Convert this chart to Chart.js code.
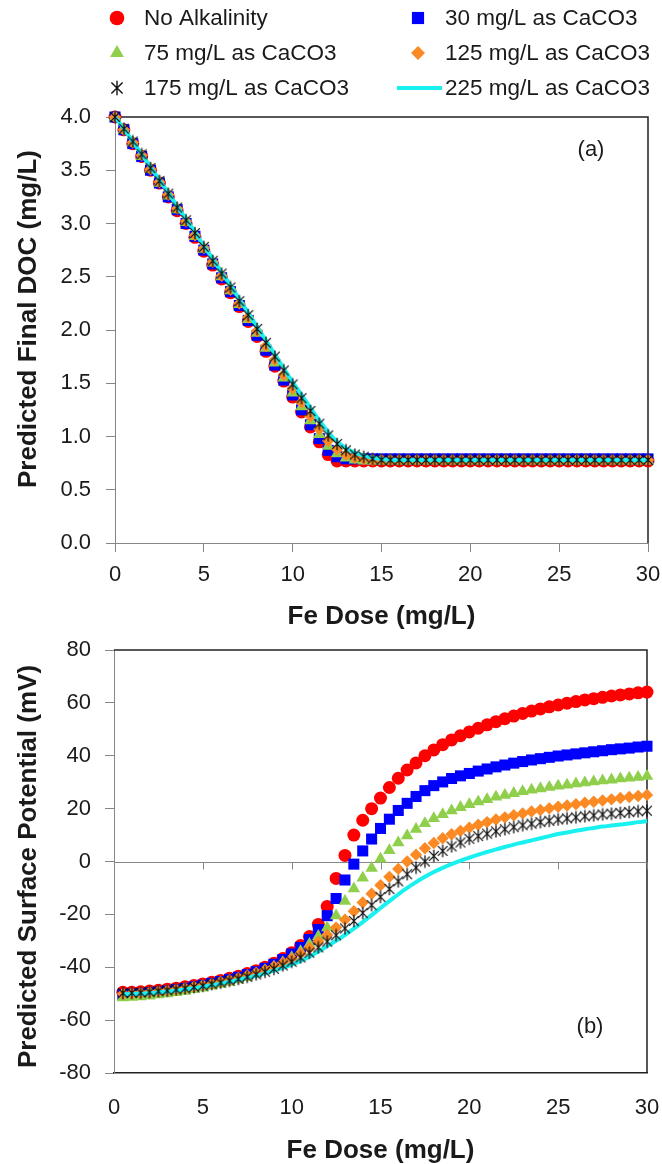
<!DOCTYPE html>
<html>
<head>
<meta charset="utf-8">
<script src="https://cdn.jsdelivr.net/npm/chart.js@4.4.1/dist/chart.umd.min.js"></script>
<style>
  html, body { margin: 0; padding: 0; background: #ffffff; }
  #wrap { position: relative; width: 662px; height: 1164px; overflow: hidden; }
  canvas { position: absolute; left: 0; }
  #docChart { top: 0; }
  #zetaChart { top: 640px; }
</style>
</head>
<body>
<div id="wrap">
  <canvas id="docChart" width="662" height="640"></canvas>
  <canvas id="zetaChart" width="662" height="524"></canvas>
</div>
<script>
// ---- series labels ----
const seriesNames = [
  'No Alkalinity',
  '30 mg/L as CaCO3',
  '75 mg/L as CaCO3',
  '125 mg/L as CaCO3',
  '175 mg/L as CaCO3',
  '225 mg/L as CaCO3'
];

// ---- axis ticks ----
const doseTicks = [0, 5, 10, 15, 20, 25, 30];
const docTicks = [0, 0.5, 1, 1.5, 2, 2.5, 3, 3.5, 4];
const potentialTicks = [-80, -60, -40, -20, 0, 20, 40, 60, 80];

// ---- (a) Fe dose (mg/L) for the DOC panel ----
const doseDoc = [
  0, 0.5, 1, 1.5, 2, 2.5, 3, 3.5, 4, 4.5, 5, 5.5, 6, 6.5, 7, 7.5, 8, 8.5, 9, 9.5,
  10, 10.5, 11, 11.5, 12, 12.5, 13, 13.5, 14, 14.5, 15, 15.5, 16, 16.5, 17, 17.5, 18, 18.5, 19, 19.5,
  20, 20.5, 21, 21.5, 22, 22.5, 23, 23.5, 24, 24.5, 25, 25.5, 26, 26.5, 27, 27.5, 28, 28.5, 29, 29.5, 30
];

// predicted final DOC (mg/L)
const docNoAlk = [
  4.00, 3.88, 3.75, 3.63, 3.50, 3.38, 3.25, 3.12, 3.00, 2.87, 2.74, 2.61, 2.48, 2.35, 2.22, 2.08, 1.94, 1.80, 1.66, 1.52,
  1.37, 1.23, 1.09, 0.95, 0.83, 0.77, 0.77, 0.77, 0.77, 0.77, 0.77, 0.77, 0.77, 0.77, 0.77, 0.77, 0.77, 0.77, 0.77, 0.77,
  0.77, 0.77, 0.77, 0.77, 0.77, 0.77, 0.77, 0.77, 0.77, 0.77, 0.77, 0.77, 0.77, 0.77, 0.77, 0.77, 0.77, 0.77, 0.77, 0.77, 0.77
];
const docAlk30 = [
  4.00, 3.88, 3.75, 3.63, 3.50, 3.38, 3.25, 3.13, 3.00, 2.88, 2.75, 2.62, 2.49, 2.36, 2.23, 2.09, 1.95, 1.81, 1.67, 1.53,
  1.39, 1.25, 1.11, 0.98, 0.87, 0.81, 0.79, 0.79, 0.79, 0.79, 0.79, 0.79, 0.79, 0.79, 0.79, 0.79, 0.79, 0.79, 0.79, 0.79,
  0.79, 0.79, 0.79, 0.79, 0.79, 0.79, 0.79, 0.79, 0.79, 0.79, 0.79, 0.79, 0.79, 0.79, 0.79, 0.79, 0.79, 0.79, 0.79, 0.79, 0.79
];
const docAlk75 = [
  4.00, 3.88, 3.76, 3.63, 3.51, 3.38, 3.26, 3.13, 3.01, 2.88, 2.76, 2.63, 2.50, 2.37, 2.24, 2.10, 1.97, 1.83, 1.69, 1.55,
  1.41, 1.28, 1.15, 1.02, 0.91, 0.84, 0.80, 0.78, 0.77, 0.77, 0.77, 0.77, 0.77, 0.77, 0.77, 0.77, 0.77, 0.77, 0.77, 0.77,
  0.77, 0.77, 0.77, 0.77, 0.77, 0.77, 0.77, 0.77, 0.77, 0.77, 0.77, 0.77, 0.77, 0.77, 0.77, 0.77, 0.77, 0.77, 0.77, 0.77, 0.77
];
const docAlk125 = [
  4.00, 3.88, 3.76, 3.64, 3.51, 3.39, 3.27, 3.14, 3.02, 2.89, 2.77, 2.64, 2.51, 2.38, 2.25, 2.12, 1.99, 1.85, 1.72, 1.58,
  1.45, 1.32, 1.19, 1.07, 0.96, 0.88, 0.83, 0.80, 0.79, 0.78, 0.78, 0.78, 0.78, 0.78, 0.78, 0.78, 0.78, 0.78, 0.78, 0.78,
  0.78, 0.78, 0.78, 0.78, 0.78, 0.78, 0.78, 0.78, 0.78, 0.78, 0.78, 0.78, 0.78, 0.78, 0.78, 0.78, 0.78, 0.78, 0.78, 0.78, 0.78
];
const docAlk175 = [
  4.00, 3.89, 3.77, 3.65, 3.52, 3.40, 3.28, 3.15, 3.03, 2.91, 2.78, 2.65, 2.53, 2.40, 2.27, 2.14, 2.01, 1.88, 1.75, 1.62,
  1.49, 1.36, 1.24, 1.12, 1.01, 0.93, 0.87, 0.83, 0.81, 0.79, 0.78, 0.78, 0.78, 0.78, 0.78, 0.78, 0.78, 0.78, 0.78, 0.78,
  0.78, 0.78, 0.78, 0.78, 0.78, 0.78, 0.78, 0.78, 0.78, 0.78, 0.78, 0.78, 0.78, 0.78, 0.78, 0.78, 0.78, 0.78, 0.78, 0.78, 0.78
];
const docAlk225 = [
  4.00, 3.89, 3.77, 3.65, 3.53, 3.41, 3.29, 3.16, 3.04, 2.92, 2.79, 2.67, 2.54, 2.42, 2.29, 2.16, 2.03, 1.90, 1.77, 1.64,
  1.51, 1.39, 1.27, 1.15, 1.04, 0.95, 0.89, 0.85, 0.82, 0.80, 0.79, 0.78, 0.78, 0.78, 0.78, 0.78, 0.78, 0.78, 0.78, 0.78,
  0.78, 0.78, 0.78, 0.78, 0.78, 0.78, 0.78, 0.78, 0.78, 0.78, 0.78, 0.78, 0.78, 0.78, 0.78, 0.78, 0.78, 0.78, 0.78, 0.78, 0.78
];

// ---- (b) Fe dose (mg/L) for the surface potential panel ----
const dosePotential = [
  0.5, 1, 1.5, 2, 2.5, 3, 3.5, 4, 4.5, 5, 5.5, 6, 6.5, 7, 7.5, 8, 8.5, 9, 9.5, 10,
  10.5, 11, 11.5, 12, 12.5, 13, 13.5, 14, 14.5, 15, 15.5, 16, 16.5, 17, 17.5, 18, 18.5, 19, 19.5, 20,
  20.5, 21, 21.5, 22, 22.5, 23, 23.5, 24, 24.5, 25, 25.5, 26, 26.5, 27, 27.5, 28, 28.5, 29, 29.5, 30
];

// predicted surface potential (mV)
const psiNoAlk = [
  -49.5, -49.5, -49.3, -49.0, -48.7, -48.3, -47.9, -47.4, -46.9, -46.3,
  -45.7, -45.0, -44.2, -43.4, -42.4, -41.3, -40.0, -38.5, -36.7, -34.5,
  -31.8, -28.4, -23.8, -17.0, -6.4, 2.3, 10.0, 15.6, 20.0, 24.0,
  28.0, 31.5, 34.6, 37.3, 40.0, 42.2, 44.2, 46.0, 47.6, 49.0,
  50.4, 51.7, 52.9, 54.0, 55.0, 56.0, 56.9, 57.7, 58.5, 59.2,
  59.9, 60.5, 61.1, 61.6, 62.1, 62.6, 63.0, 63.4, 63.8, 64.1
];
const psiAlk30 = [
  -50.3, -50.2, -50.0, -49.7, -49.4, -49.0, -48.5, -48.0, -47.4, -46.8,
  -46.1, -45.4, -44.6, -43.8, -42.8, -41.7, -40.4, -38.9, -37.1, -35.0,
  -32.5, -29.5, -25.7, -20.5, -14.0, -7.0, -1.0, 4.0, 8.5, 12.5,
  16.0, 19.3, 22.0, 24.6, 26.8, 28.7, 30.1, 31.4, 32.4, 33.3,
  34.2, 35.0, 35.8, 36.5, 37.2, 37.8, 38.4, 38.9, 39.4, 39.9,
  40.3, 40.7, 41.1, 41.5, 41.9, 42.3, 42.6, 42.9, 43.3, 43.6
];
const psiAlk75 = [
  -51.5, -51.3, -51.1, -50.8, -50.4, -50.0, -49.5, -49.0, -48.4, -47.8,
  -47.1, -46.4, -45.6, -44.7, -43.7, -42.6, -41.3, -39.9, -38.2, -36.3,
  -34.0, -31.3, -28.3, -25.0, -20.5, -15.0, -10.3, -6.2, -2.5, 1.0,
  4.2, 7.1, 9.8, 12.2, 14.4, 16.3, 17.8, 19.2, 20.5, 21.6,
  22.6, 23.5, 24.4, 25.1, 25.8, 26.5, 27.1, 27.6, 28.1, 28.6,
  29.0, 29.4, 29.8, 30.2, 30.6, 30.9, 31.3, 31.6, 31.9, 32.3
];
const psiAlk125 = [
  -50.0, -49.9, -49.7, -49.5, -49.2, -48.8, -48.4, -47.9, -47.4, -46.8,
  -46.2, -45.5, -44.8, -44.0, -43.1, -42.1, -41.0, -39.7, -38.3, -36.7,
  -34.8, -32.7, -30.3, -27.8, -25.0, -22.0, -18.8, -15.5, -12.2, -9.0,
  -5.8, -2.8, 0.0, 2.6, 5.0, 7.0, 8.8, 10.3, 11.6, 12.8,
  13.9, 14.9, 15.9, 16.7, 17.5, 18.2, 18.9, 19.5, 20.1, 20.7,
  21.2, 21.7, 22.2, 22.6, 23.1, 23.5, 24.0, 24.4, 24.8, 25.2
];
const psiAlk175 = [
  -49.8, -49.7, -49.6, -49.4, -49.1, -48.8, -48.4, -48.0, -47.5, -47.0,
  -46.4, -45.8, -45.1, -44.4, -43.6, -42.7, -41.7, -40.6, -39.3, -37.9,
  -36.3, -34.5, -32.5, -30.3, -27.9, -25.3, -22.5, -19.5, -16.5, -13.4,
  -10.4, -7.5, -4.8, -2.3, 0.0, 2.1, 4.0, 5.7, 7.2, 8.6,
  9.6, 10.5, 11.4, 12.2, 13.0, 13.7, 14.3, 14.9, 15.4, 15.9,
  16.3, 16.7, 17.1, 17.4, 17.8, 18.1, 18.4, 18.7, 19.0, 19.2
];
const psiAlk225 = [
  -50.2, -50.1, -50.0, -49.8, -49.5, -49.2, -48.8, -48.4, -47.9, -47.4,
  -46.8, -46.2, -45.5, -44.8, -44.0, -43.2, -42.3, -41.3, -40.2, -39.0,
  -37.6, -36.0, -34.1, -32.0, -30.0, -27.8, -25.4, -22.9, -20.3, -17.6,
  -15.0, -12.4, -10.0, -7.8, -5.8, -4.0, -2.4, -1.0, 0.3, 1.5,
  2.6, 3.6, 4.6, 5.5, 6.4, 7.2, 8.0, 8.8, 9.6, 10.4,
  11.0, 11.6, 12.2, 12.7, 13.2, 13.6, 14.0, 14.4, 14.9, 15.3
];

// ---- styling ----
const FONT = '"Liberation Sans", Arial, Helvetica, sans-serif';
const AXIS_GREY = '#868686';
const TEXT = '#1a1a1a';

// six-armed asterisk marker (vertical bar plus a cross)
function asteriskMarker(size, color, width) {
  const c = document.createElement('canvas');
  c.width = size; c.height = size;
  const g = c.getContext('2d');
  const m = size / 2, r = size / 2 - 0.8, d = r * 0.78;
  g.strokeStyle = color;
  g.lineWidth = width;
  g.beginPath();
  g.moveTo(m, m - r); g.lineTo(m, m + r);
  g.moveTo(m - d, m - d); g.lineTo(m + d, m + d);
  g.moveTo(m + d, m - d); g.lineTo(m - d, m + d);
  g.stroke();
  return c;
}
const asterisk = asteriskMarker(14, '#111111', 1.3);
const asteriskKey = asteriskMarker(16, '#111111', 1.4);

const seriesStyle = [
  { color: '#ff0000', pointStyle: 'circle',   radius: 6.5, order: 6 },
  { color: '#0000ff', pointStyle: 'rect',     radius: 7.8, order: 5 },
  { color: '#8fcf4c', pointStyle: 'triangle', radius: 7.2, order: 4 },
  { color: '#fb8a24', pointStyle: 'rectRot',  radius: 6.2, order: 3 },
  { color: '#111111', pointStyle: asterisk,   radius: 7,   order: 1, key: asteriskKey },
  { color: '#19f0f0', line: true,             order: 2 }
];

function buildDatasets(xs, ysList) {
  return ysList.map((ys, i) => {
    const st = seriesStyle[i];
    const data = xs.map((x, k) => ({ x: x, y: ys[k] }));
    if (st.line) {
      return {
        label: seriesNames[i], data, order: st.order, showLine: true,
        borderColor: st.color, backgroundColor: st.color, borderWidth: 4,
        pointRadius: 0, cubicInterpolationMode: 'monotone', clip: false
      };
    }
    return {
      label: seriesNames[i], data, order: st.order, showLine: false,
      pointStyle: st.pointStyle, pointRadius: st.radius,
      backgroundColor: st.color, borderColor: st.color, borderWidth: 0,
      clip: false
    };
  });
}

// plot frame, zero line, rotated value-axis title and panel tag
const framePlugin = {
  id: 'frame',
  beforeDatasetsDraw(chart, args, opts) {
    const { ctx, chartArea: a } = chart;
    const xs = chart.scales.x, ys = chart.scales.y;
    ctx.save();
    ctx.strokeStyle = '#222222';
    ctx.lineWidth = 1.5;
    ctx.beginPath();
    ctx.moveTo(a.left, a.top);
    ctx.lineTo(a.right, a.top);
    ctx.lineTo(a.right, a.bottom);
    ctx.stroke();
    if (opts.zeroLine) {
      const y0 = Math.round(ys.getPixelForValue(0)) + 0.5;
      ctx.strokeStyle = AXIS_GREY;
      ctx.lineWidth = 1;
      ctx.beginPath();
      ctx.moveTo(a.left, y0);
      ctx.lineTo(a.right, y0);
      xs.ticks.forEach(t => {
        const px = Math.round(xs.getPixelForValue(t.value)) + 0.5;
        ctx.moveTo(px, y0);
        ctx.lineTo(px, y0 + 7);
      });
      ctx.stroke();
    }
    if (opts.yTitle) {
      ctx.save();
      ctx.translate(ys.left + 29, (a.top + a.bottom) / 2 + opts.yTitleShift);
      ctx.rotate(-Math.PI / 2);
      ctx.fillStyle = TEXT;
      ctx.font = 'bold 26px ' + FONT;
      ctx.textAlign = 'center';
      ctx.textBaseline = 'middle';
      ctx.fillText(opts.yTitle, 0, 0);
      ctx.restore();
    }
    if (opts.tag) {
      ctx.fillStyle = TEXT;
      ctx.font = '22px ' + FONT;
      ctx.textAlign = 'center';
      ctx.textBaseline = 'middle';
      const ty = opts.tagFromTop ? a.top + opts.tagOffset : a.bottom - opts.tagOffset;
      ctx.fillText(opts.tag, a.right - 57, ty);
    }
    ctx.restore();
  }
};

// two-column legend above panel (a)
const legendPlugin = {
  id: 'gridLegend',
  afterDraw(chart) {
    const ctx = chart.ctx;
    const cols = [{ mark: 117, text: 144 }, { mark: 418, text: 445 }];
    const rowY = [18, 53, 88];
    ctx.save();
    ctx.font = '22.5px ' + FONT;
    ctx.textBaseline = 'middle';
    ctx.textAlign = 'left';
    seriesNames.forEach((name, i) => {
      const col = cols[i % 2], y = rowY[Math.floor(i / 2)];
      const st = seriesStyle[i];
      if (st.line) {
        ctx.strokeStyle = st.color;
        ctx.lineWidth = 4;
        ctx.beginPath();
        ctx.moveTo(col.text - 48, y);
        ctx.lineTo(col.text - 3, y);
        ctx.stroke();
      } else {
        ctx.fillStyle = st.color;
        ctx.strokeStyle = st.color;
        Chart.helpers.drawPoint(ctx, {
          pointStyle: st.key || st.pointStyle, radius: st.radius + 0.8, rotation: 0, borderWidth: 0
        }, col.mark, y);
      }
      ctx.fillStyle = TEXT;
      ctx.fillText(name, col.text, y + 1);
    });
    ctx.restore();
  }
};

// keep the plot area where the layout padding puts it
function noEdgePadding(s) {
  s.paddingLeft = 0; s.paddingRight = 0; s.paddingTop = 0; s.paddingBottom = 0;
}

function axisCommon(extra) {
  return Object.assign({
    type: 'linear',
    grid: { drawOnChartArea: false, drawTicks: true, tickLength: 9, tickColor: AXIS_GREY, lineWidth: 1 },
    border: { color: AXIS_GREY, width: 1 }
  }, extra);
}

function tickFont() { return { family: FONT, size: 22 }; }
function titleFont() { return { family: FONT, size: 26, weight: 'bold', lineHeight: 1 }; }

// ---- panel (a): predicted final DOC ----
new Chart(document.getElementById('docChart'), {
  type: 'scatter',
  data: {
    datasets: buildDatasets(doseDoc, [docNoAlk, docAlk30, docAlk75, docAlk125, docAlk175, docAlk225])
  },
  plugins: [framePlugin, legendPlugin],
  options: {
    responsive: false,
    animation: false,
    events: [],
    layout: { padding: { top: 117, right: 14, left: 0, bottom: 0 } },
    plugins: {
      legend: { display: false },
      tooltip: { enabled: false },
      frame: { tag: '(a)', tagFromTop: true, tagOffset: 33, yTitle: 'Predicted Final DOC (mg/L)', yTitleShift: -11 }
    },
    scales: {
      x: axisCommon({
        min: doseTicks[0], max: doseTicks[doseTicks.length - 1],
        afterBuildTicks: s => { s.ticks = doseTicks.map(v => ({ value: v })); },
        ticks: { font: tickFont(), color: TEXT, padding: 10, maxRotation: 0 },
        title: { display: true, text: 'Fe Dose (mg/L)', font: titleFont(), color: TEXT, padding: { top: 0, bottom: 10 } },
        afterFit: s => { s.height = 97; noEdgePadding(s); }
      }),
      y: axisCommon({
        min: docTicks[0], max: docTicks[docTicks.length - 1],
        afterBuildTicks: s => { s.ticks = docTicks.map(v => ({ value: v })); },
        ticks: { font: tickFont(), color: TEXT, padding: 15, callback: v => Number(v).toFixed(1) },
        afterFit: s => { s.width = 115; noEdgePadding(s); }
      })
    }
  }
});

// ---- panel (b): predicted surface potential ----
new Chart(document.getElementById('zetaChart'), {
  type: 'scatter',
  data: {
    datasets: buildDatasets(dosePotential, [psiNoAlk, psiAlk30, psiAlk75, psiAlk125, psiAlk175, psiAlk225])
  },
  plugins: [framePlugin],
  options: {
    responsive: false,
    animation: false,
    events: [],
    layout: { padding: { top: 10, right: 15, left: 0, bottom: 0 } },
    plugins: {
      legend: { display: false },
      tooltip: { enabled: false },
      frame: { zeroLine: true, tag: '(b)', tagFromTop: false, tagOffset: 46, yTitle: 'Predicted Surface Potential (mV)', yTitleShift: 5 }
    },
    scales: {
      x: {
        type: 'linear',
        min: doseTicks[0], max: doseTicks[doseTicks.length - 1],
        afterBuildTicks: s => { s.ticks = doseTicks.map(v => ({ value: v })); },
        grid: { display: false },
        border: { color: '#222222', width: 1.5 },
        ticks: { font: tickFont(), color: TEXT, padding: 14, maxRotation: 0 },
        title: { display: true, text: 'Fe Dose (mg/L)', font: titleFont(), color: TEXT, padding: { top: 0, bottom: 0 } },
        afterFit: s => { s.height = 91; noEdgePadding(s); }
      },
      y: axisCommon({
        min: potentialTicks[0], max: potentialTicks[potentialTicks.length - 1],
        afterBuildTicks: s => { s.ticks = potentialTicks.map(v => ({ value: v })); },
        ticks: { font: tickFont(), color: TEXT, padding: 14 },
        afterFit: s => { s.width = 114; noEdgePadding(s); }
      })
    }
  }
});
</script>
</body>
</html>
